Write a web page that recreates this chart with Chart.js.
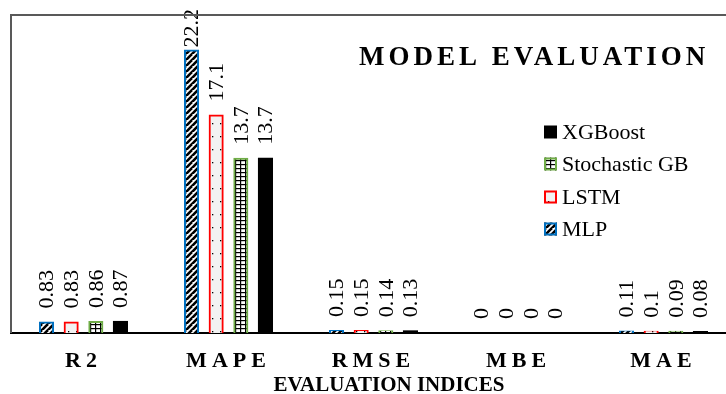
<!DOCTYPE html>
<html>
<head>
<meta charset="utf-8">
<script src="https://cdn.jsdelivr.net/npm/chart.js@4.4.1/dist/chart.umd.min.js"></script>
<style>
  html, body { margin: 0; padding: 0; background: #fff; overflow: hidden; }
  #wrap { width: 745px; height: 394px; }
</style>
</head>
<body>
<div id="wrap"><canvas id="chart" width="745" height="394"></canvas></div>
<script>
  const categories = ["R2", "MAPE", "RMSE", "MBE", "MAE"];
  const mlpValues = [0.83, 22.2, 0.15, 0, 0.11];
  const lstmValues = [0.83, 17.1, 0.15, 0, 0.1];
  const sgbValues = [0.86, 13.7, 0.14, 0, 0.09];
  const xgbValues = [0.87, 13.7, 0.13, 0, 0.08];
  const yMax = 25;

  const SERIF = "'Liberation Serif', 'Times New Roman', serif";
  const canvas = document.getElementById("chart");
  const ctx = canvas.getContext("2d");

  function makePattern(w, h, paint) {
    const tile = document.createElement("canvas");
    tile.width = w;
    tile.height = h;
    paint(tile.getContext("2d"), w, h);
    return ctx.createPattern(tile, "repeat");
  }

  // wide upward diagonal, black on white
  const stripes = makePattern(6, 6, (g, w, h) => {
    g.fillStyle = "#fff";
    g.fillRect(0, 0, w, h);
    g.strokeStyle = "#000";
    g.lineWidth = 2.6;
    [[-6, 6, 0, 0], [0, 6, 6, 0], [0, 12, 12, 0]].forEach(([x1, y1, x2, y2]) => {
      g.beginPath();
      g.moveTo(x1, y1);
      g.lineTo(x2, y2);
      g.stroke();
    });
  });

  // light gray with sparse dots
  const dots = makePattern(8, 13, (g, w, h) => {
    g.fillStyle = "#f2f2f2";
    g.fillRect(0, 0, w, h);
    g.fillStyle = "#000";
    g.fillRect(4, 6, 1.3, 1.3);
  });

  // small grid
  const grid = makePattern(5, 4, (g, w, h) => {
    g.fillStyle = "#fff";
    g.fillRect(0, 0, w, h);
    g.fillStyle = "#000";
    g.fillRect(0, 0, w, 1.2);
    g.fillRect(0, 0, 1.2, h);
  });

  const barLabels = {
    id: "barLabels",
    afterDatasetsDraw(chart) {
      const c = chart.ctx;
      c.save();
      c.font = "22px " + SERIF;
      c.fillStyle = "#000";
      c.textAlign = "left";
      c.textBaseline = "middle";
      chart.data.datasets.forEach((ds, i) => {
        chart.getDatasetMeta(i).data.forEach((bar, j) => {
          const text = String(ds.data[j]);
          const w = c.measureText(text).width;
          let start = bar.y - 14;
          if (start - w < 9) start = 9 + w;
          c.save();
          c.translate(bar.x + 1, start);
          c.rotate(-Math.PI / 2);
          c.fillText(text, 0, 0);
          c.restore();
        });
      });
      c.restore();
    }
  };

  const decor = {
    id: "decor",
    beforeDraw(chart) {
      const s = chart.scales.x;
      if (s && !s.__spaced) {
        const orig = s.drawLabels;
        s.drawLabels = function (area) {
          this.ctx.save();
          this.ctx.letterSpacing = "5px";
          orig.call(this, area);
          this.ctx.restore();
        };
        s.__spaced = true;
      }
    },
    afterDraw(chart) {
      const c = chart.ctx;
      const a = chart.chartArea;
      c.save();
      // frame: top and left
      c.strokeStyle = "#595959";
      c.lineWidth = 2;
      c.beginPath();
      c.moveTo(a.left, a.bottom);
      c.lineTo(a.left, a.top);
      c.lineTo(chart.width, a.top);
      c.stroke();

      // chart title
      c.fillStyle = "#000";
      c.font = "bold 27px " + SERIF;
      c.letterSpacing = "4px";
      c.textAlign = "left";
      c.textBaseline = "alphabetic";
      c.fillText("MODEL EVALUATION", 359, 65);
      c.letterSpacing = "0px";

      // axis title
      c.font = "bold 21px " + SERIF;
      c.textAlign = "center";
      c.fillText("EVALUATION INDICES", 389, 391);

      // legend, reversed order
      const ys = [132, 164, 197, 229];
      const items = chart.data.datasets.slice().reverse();
      c.font = "22px " + SERIF;
      c.textAlign = "left";
      c.textBaseline = "middle";
      items.forEach((ds, k) => {
        const y = ys[k];
        c.fillStyle = ds.backgroundColor;
        c.fillRect(544, y - 6.5, 13, 13);
        if (ds.borderWidth) {
          c.strokeStyle = ds.borderColor;
          c.lineWidth = 2;
          c.strokeRect(545, y - 5.5, 11, 11);
        }
        c.fillStyle = "#000";
        c.fillText(ds.label, 562, y + 1);
      });
      c.restore();
    }
  };

  new Chart(ctx, {
    type: "bar",
    data: {
      labels: categories,
      datasets: [
        { label: "MLP", data: mlpValues, backgroundColor: stripes, borderColor: "#0070c0", borderWidth: 2 },
        { label: "LSTM", data: lstmValues, backgroundColor: dots, borderColor: "#ff0000", borderWidth: 2 },
        { label: "Stochastic GB", data: sgbValues, backgroundColor: grid, borderColor: "#70ad47", borderWidth: 2 },
        { label: "XGBoost", data: xgbValues, backgroundColor: "#000", borderColor: "#000", borderWidth: 0 }
      ]
    },
    options: {
      responsive: false,
      animation: false,
      devicePixelRatio: 1,
      layout: { padding: { left: 11, top: 15, right: 9, bottom: 0 } },
      datasets: {
        bar: { categoryPercentage: 0.68, barPercentage: 0.53, borderSkipped: "start", inflateAmount: 1 }
      },
      plugins: { legend: { display: false }, tooltip: { enabled: false }, title: { display: false } },
      scales: {
        x: {
          grid: { display: false, drawTicks: false },
          border: { display: true, color: "#000", width: 2 },
          ticks: {
            color: "#000",
            maxRotation: 0,
            padding: 15,
            font: { family: SERIF, size: 22, weight: "bold" }
          },
          afterFit(scale) {
            scale.height = 61;
          }
        },
        y: { display: false, min: 0, max: yMax }
      }
    },
    plugins: [barLabels, decor]
  });
</script>
</body>
</html>
